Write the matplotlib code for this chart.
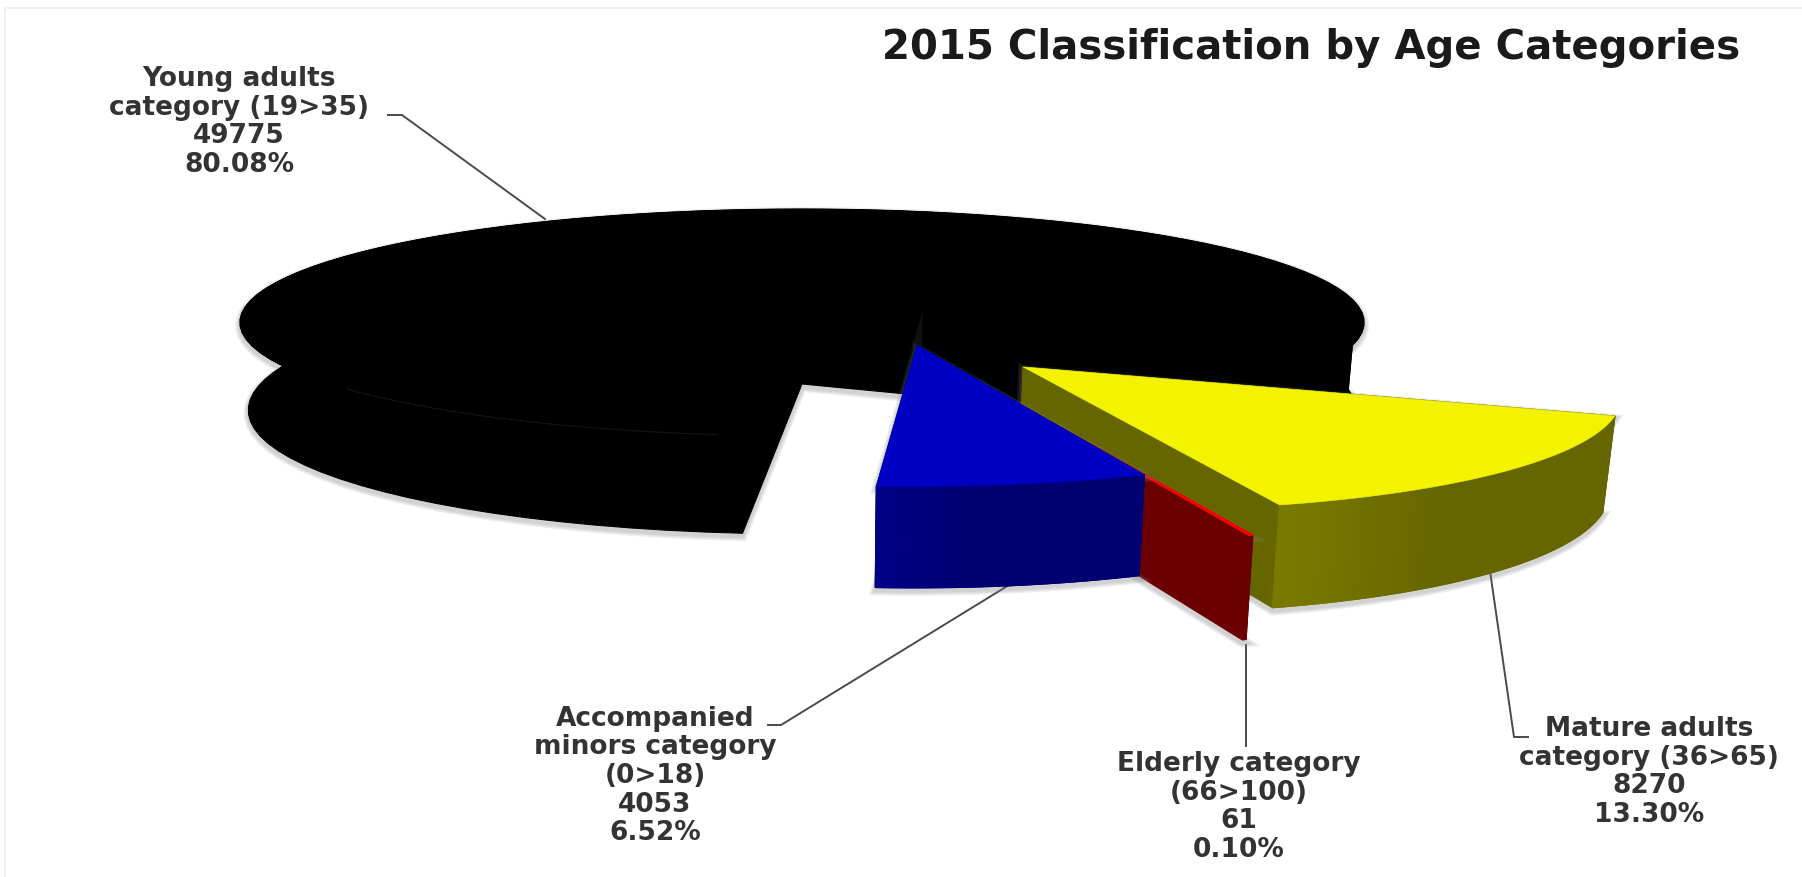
import numpy as np
import matplotlib
matplotlib.use("Agg")
from matplotlib import pyplot as plt
from matplotlib.patches import Polygon, Rectangle

title = '2015 Classification by Age Categories'
slice_names = ['Young adults\ncategory (19>35)', 'Mature adults\ncategory (36>65)',
               'Elderly category\n(66>100)', 'Accompanied\nminors category\n(0>18)']
slice_counts = [49775, 8270, 61, 4053]
slice_pcts = ['80.08%', '13.30%', '0.10%', '6.52%']

# perspective of the pie plane, pixels
CX, CY = 802, 300
A, B, K = 550, 108.6, 0.207
START = 185.0

# off: shift in the pie plane, r: radius at both ends of the arc,
# fan: small widening of the arc in degrees, the source picture is distorted a bit
styles = [
    dict(off=(0, 0), r=(1.0, 1.0), fan=(0, 0), top='#000000', wall='#000000', light='#000000'),
    dict(off=(0.356, -0.554), r=(0.913, 0.851), fan=(-2.3, 0.5), top='#f3f300', wall='#666600', light='#7a7a00'),
    dict(off=(0.283, -0.671), r=(0.875, 0.875), fan=(0, 0), top='#ff0000', wall='#6b0000', light='#6b0000'),
    dict(off=(0.192, -0.392), r=(0.865, 0.882), fan=(0, 1.0), top='#0000c4', wall='#000070', light='#000088'),
]


def project(u, v):
    w = 1 + K * v
    return CX + A * u / w, CY - B * v / w


def drop(x, y, v):
    # same point on the underside of the pie
    return CX + (x - CX) * 0.985, y + 85 - 13 * v


def slice_points(st, a0, a1, n):
    a0, a1 = a0 + st['fan'][0], a1 + st['fan'][1]
    ang = np.radians(np.linspace(a0, a1, n))
    r = np.linspace(st['r'][0], st['r'][1], n)
    u = st['off'][0] + r * np.sin(ang)
    v = st['off'][1] + r * np.cos(ang)
    return u, v


def wall_outline(u, v):
    x, y = project(u, v)
    xb, yb = drop(x, y, v)
    return list(zip(x, y)) + list(zip(xb[::-1], yb[::-1]))


def draw_walls(ax, st, a0, a1, z):
    ox, oy = st['off']
    u, v = slice_points(st, a0, a1, 90)
    # soft shadow, only really shows below and beside the slice
    pts = wall_outline(np.r_[ox, u, ox], np.r_[oy, v, oy])
    low = [(p[0], p[1] + 3) for p in pts]
    for lw in [7, 5, 3]:
        ax.add_patch(Polygon(low, closed=True, fc='none', ec='#808080', lw=lw, alpha=0.13, zorder=z))
    # radial cut faces first, the rim goes over them
    for end in (0, -1):
        ax.add_patch(Polygon(wall_outline(np.r_[ox, u[end]], np.r_[oy, v[end]]), closed=True,
                             fc=st['wall'], ec=st['wall'], lw=0.8, zorder=z))
    ax.add_patch(Polygon(wall_outline(u, v), closed=True, fc=st['wall'], ec=st['wall'], lw=0.8, zorder=z))
    c0 = np.array(matplotlib.colors.to_rgb(st['wall']))
    c1 = np.array(matplotlib.colors.to_rgb(st['light']))
    if st['wall'] == st['light']:
        return
    for i in range(len(u) - 1):
        t = min(1.0, (len(u) - 2 - i) / (len(u) - 2) * 3)
        col = tuple(c0 + (c1 - c0) * (1 - t))
        ax.add_patch(Polygon(wall_outline(u[i:i + 2], v[i:i + 2]), closed=True, fc=col, ec=col, lw=1.0, zorder=z))


def draw_top(ax, st, a0, a1, z, lw=0.4):
    ox, oy = st['off']
    u, v = slice_points(st, a0, a1, 90)
    x, y = project(np.r_[ox, u], np.r_[oy, v])
    ax.add_patch(Polygon(list(zip(x, y)), closed=True, fc=st['top'], ec=st['top'], lw=lw, zorder=z))


fig = plt.figure(figsize=(18.02, 8.78), dpi=100)
ax = fig.add_axes([0, 0, 1, 1])
ax.set_xlim(0, 1802)
ax.set_ylim(878, 0)
ax.axis('off')

ax.add_patch(Rectangle((5, 9), 1810, 880, fc='white', ec='#efefef', lw=1.2, zorder=0))

spans = np.array(slice_counts) / sum(slice_counts) * 360
edges = START + np.r_[0, np.cumsum(spans)]

# painter's order: black, yellow, red, blue
draw_walls(ax, styles[0], edges[0], edges[1], 2)
draw_top(ax, styles[0], edges[0], edges[1], 3)
draw_walls(ax, styles[1], edges[1], edges[2], 4)
draw_top(ax, styles[1], edges[1], edges[2], 5)
draw_walls(ax, styles[2], edges[2], edges[3], 6)
draw_top(ax, styles[2], edges[2], edges[3], 7, lw=1.0)
draw_walls(ax, styles[3], edges[3], edges[4], 8)
draw_top(ax, styles[3], edges[3], edges[4], 9)

# faint rim line on the black slice
u, v = slice_points(styles[0], edges[0] + 2, edges[0] + 40, 40)
x, y = project(u, v)
ax.plot(x, y, color='#141414', lw=0.8, zorder=4)

# leader lines
leaders = [
    ([388, 402, 545], [116, 116, 220]),
    ([1490, 1514, 1528], [572, 738, 738]),
    ([1246, 1246], [646, 747]),
    ([1009, 781, 768], [586, 726, 726]),
]
for lx, ly in leaders:
    ax.plot(lx, ly, color='#4a4a4a', lw=1.4, zorder=1)

label_pos = [(239, 122), (1649, 772), (1239, 807), (655, 776)]
for name, count, pct, (tx, ty) in zip(slice_names, slice_counts, slice_pcts, label_pos):
    ax.text(tx, ty, f'{name}\n{count}\n{pct}', ha='center', va='center', fontsize=19,
            family='DejaVu Sans', fontweight='bold', color='#333333', linespacing=1.13, zorder=10)

ax.text(1311, 48, title, ha='center', va='center', fontsize=29, family='DejaVu Sans',
        fontweight='bold', color='#1a1a1a', zorder=10)

plt.savefig('out.png', dpi=100)
